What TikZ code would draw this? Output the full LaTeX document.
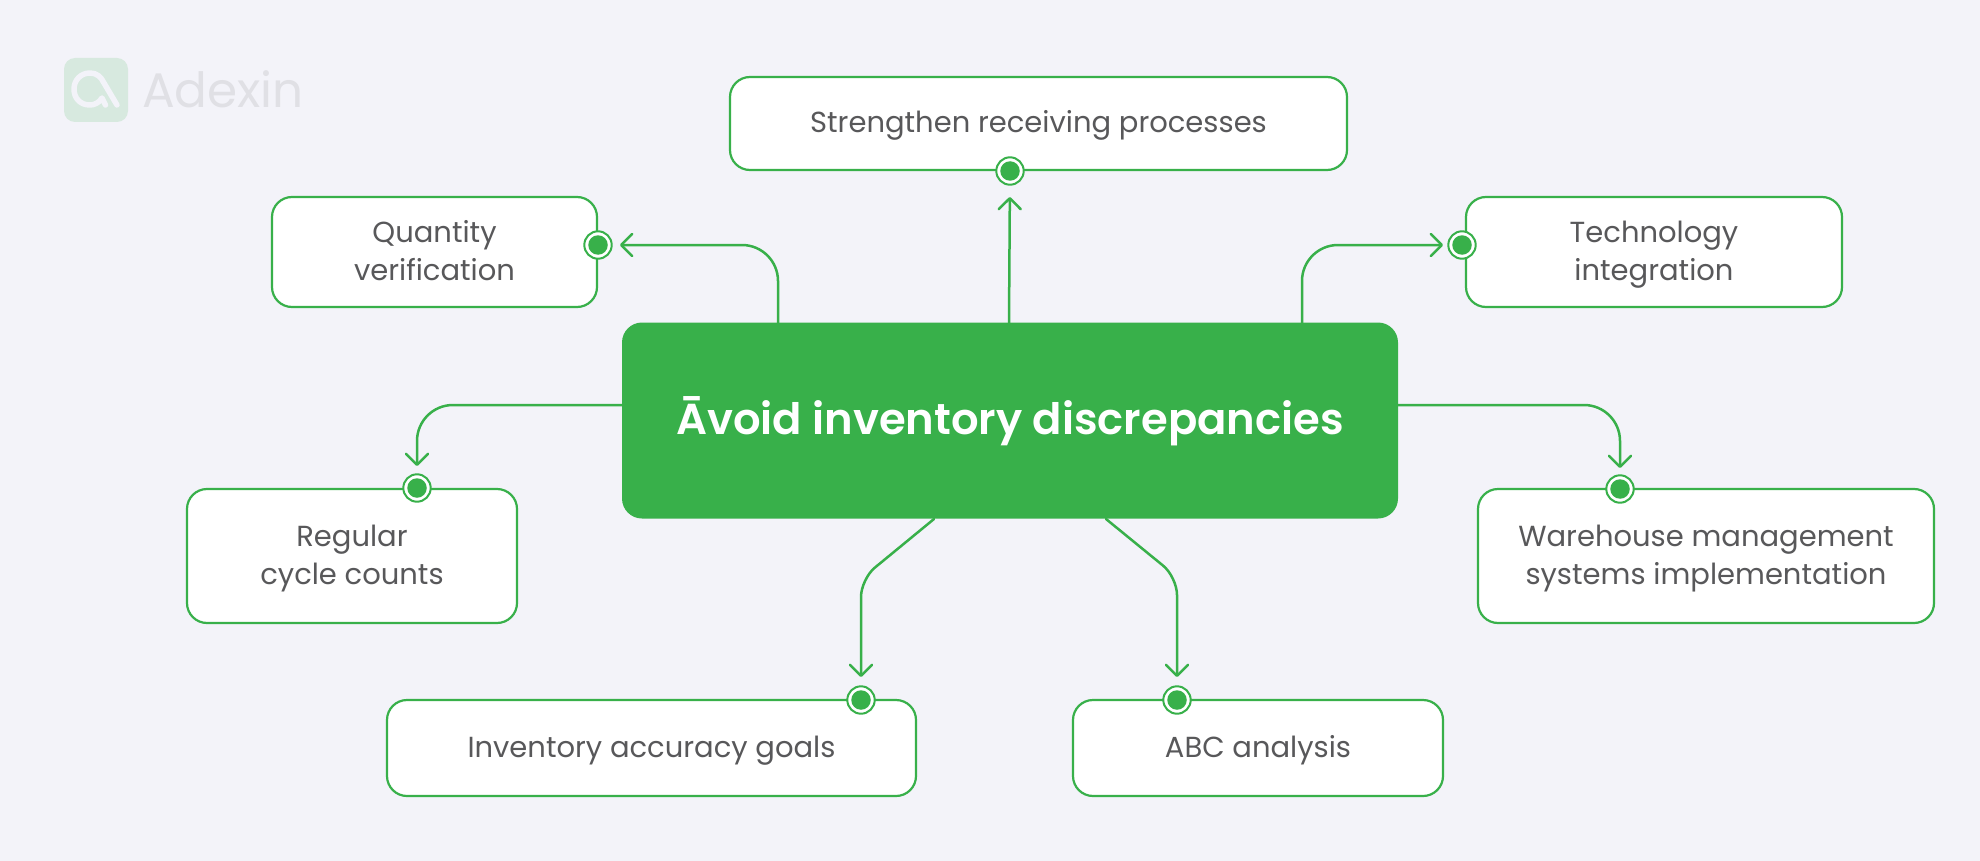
\documentclass[tikz,border=0pt]{standalone}
\usepackage{fontspec}
\setmainfont{Poppins}
\newfontfamily\semib{Poppins SemiBold}
\usetikzlibrary{arrows.meta,calc}
\definecolor{gr}{HTML}{38B04A}
\definecolor{bgc}{HTML}{F3F3F9}
\definecolor{tx}{HTML}{58585A}
\tikzset{
 x=1pt,y=-1pt,
 card/.style={draw=gr,line width=2.2pt,fill=white,rounded corners=20pt,inner sep=0pt,text=tx,align=center,font=\fontsize{29}{38}\selectfont,execute at begin node={\lineskiplimit=-100pt\relax}},
 conn/.style={draw=gr,line width=2.5pt,line cap=round,-{Straight Barb[length=11pt,width=22pt,line width=2.5pt,round]}},
}
\newcommand{\st}{\rule[-12pt]{0pt}{42.6pt}}
\newcommand{\card}[6]{\node[card,minimum width=#3-#1,minimum height=#4-#2] (#5) at ({(#1+#3)/2},{(#2+#4)/2}) {#6};}
\newcommand{\dotm}[3]{\fill[white] (#1,#2) circle (13.7pt);\draw[gr,line width=2pt] (#1,#2) circle (13.7pt); \node[circle,fill=gr,inner sep=0pt,minimum size=19.5pt] (#3) at (#1,#2) {};}
\begin{document}
\begin{tikzpicture}
\useasboundingbox (0,0) rectangle (1980,861);
\fill[bgc] (0,0) rectangle (1980,861);
% logo
\fill[fill=gr!15!bgc,rounded corners=11pt] (64,58) rectangle (128,122);
\draw[bgc,line width=5.5pt,line cap=round,line join=round] (105.5,105) -- (102,98) .. controls (99,103) and (94,105) .. (90,105) .. controls (80,105) and (74,98) .. (74,89) .. controls (74,80) and (81,73) .. (90,73) .. controls (97,73) and (101,77) .. (104,83) -- (117,105);
\node[anchor=base west,inner sep=0pt,text=black!8!bgc,font=\fontsize{48.5}{48}\selectfont] (logo) at (142,108) {Adexin};
% main
\node[fill=gr,rounded corners=20pt,minimum width=776pt,minimum height=196pt,inner sep=0pt,text=white,font=\fontsize{43.3}{42}\semib] (main) at (1010,420.5) {\rule[-12pt]{0pt}{52pt}Āvoid inventory discrepancies};
\card{730}{77}{1347}{170}{c1}{\st Strengthen receiving processes}
\card{272}{197}{597}{307}{c2}{\st Quantity\\\st verification}
\card{1466}{197}{1842}{307}{c3}{\st Technology\\\st integration}
\card{187}{489}{517}{623}{c4}{\st Regular\\\st cycle counts}
\card{1478}{489}{1934}{623}{c5}{\st Warehouse management\\\st systems implementation}
\card{387}{700}{916}{796}{c6}{\st Inventory accuracy goals}
\card{1073}{700}{1443}{796}{c7}{\st ABC analysis}
\dotm{1010}{171}{d1}
\dotm{598}{245}{d2}
\dotm{1462}{245}{d3}
\dotm{417}{488}{d4}
\dotm{1620}{489}{d5}
\dotm{861}{700}{d6}
\dotm{1177}{700}{d7}
\coordinate (s1) at (1009,323);
\coordinate (s2) at (778,323);
\coordinate (s3) at (1302,323);
\coordinate (s4) at (622,405);
\coordinate (s5) at (1398,405);
\coordinate (s6) at (934,519);
\coordinate (s7) at (1106,519);
\coordinate (k6) at (861,579);
\coordinate (k7) at (1177,577);
\draw[conn,shorten >=16pt] (s1) -- (d1);
\draw[conn,rounded corners=36pt,shorten >=12pt] (s2) |- (d2);
\draw[conn,rounded corners=36pt,shorten >=9pt] (s3) |- (d3);
\draw[conn,rounded corners=36pt,shorten >=12pt] (s4) -| (d4);
\draw[conn,rounded corners=36pt,shorten >=11pt] (s5) -| (d5);
\draw[conn,rounded corners=18pt,shorten >=13pt] (s6) -- (k6) -- (d6);
\draw[conn,rounded corners=18pt,shorten >=13pt] (s7) -- (k7) -- (d7);
\end{tikzpicture}
\end{document}
